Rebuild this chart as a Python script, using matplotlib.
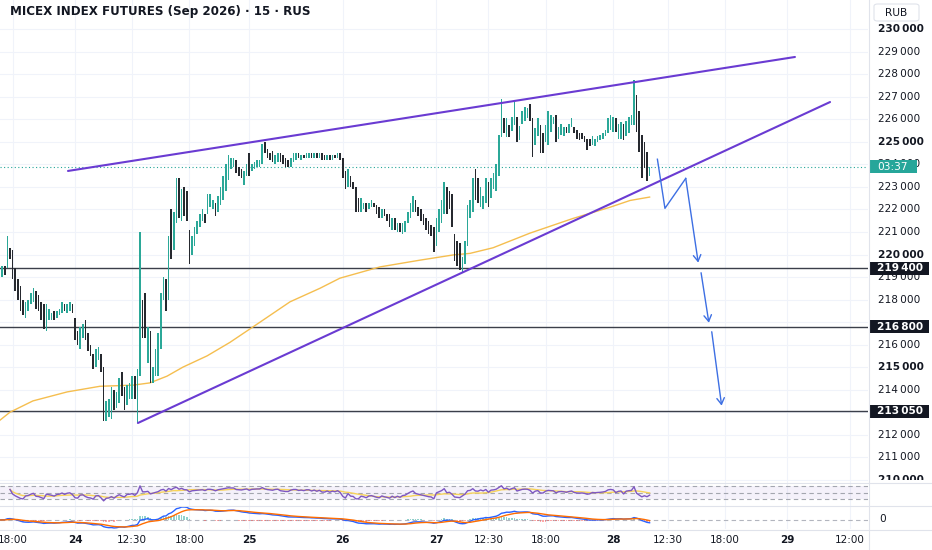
import numpy as np
import pandas as pd
import matplotlib
matplotlib.use("Agg")
import matplotlib.pyplot as plt
from matplotlib.patches import Rectangle, FancyBboxPatch
from matplotlib.lines import Line2D
from matplotlib.transforms import blended_transform_factory, Bbox

plt.rcParams['font.family'] = ['DejaVu Sans']

# ---------------- data (prices in thousand RUB, 15-minute bars) ----------------
first_bar = -29  # bar index of first visible bar (day 24 session start = 0)

opens_23 = [219.6, 219.0, 219.5, 219.4, 220.3, 220.2, 219.4, 218.9, 218.6, 218.0,
            217.2, 217.5, 217.8, 217.9, 218.4, 218.2, 217.9, 217.8, 216.6, 217.1,
            217.1, 217.5, 217.2, 217.3, 217.4, 217.8, 217.4, 217.5, 217.8]
closes_23 = [219.0, 219.5, 219.1, 220.8, 219.8, 218.9, 218.4, 218.0, 217.5, 217.3,
             217.9, 218.0, 218.3, 218.5, 217.6, 217.5, 217.1, 216.7, 217.8, 217.6,
             217.4, 217.1, 217.5, 217.6, 217.9, 217.5, 217.8, 217.9, 217.4]

opens_24 = [217.2, 216.6, 215.8, 216.3, 217.1, 216.5, 216.0, 215.6, 215.0, 215.3,
            215.6, 215.0, 212.6, 212.8, 212.7, 214.0, 213.2, 213.4, 214.8, 214.1,
            213.3, 213.6, 213.6, 214.6, 212.5, 214.6, 218.0, 218.3, 215.2, 216.6,
            214.3, 214.6, 214.6, 215.8, 218.0, 218.9, 218.0, 222.0, 220.2, 221.4,
            223.4, 221.5, 223.0, 222.8, 221.1, 220.0, 220.4, 220.9, 221.2, 221.5,
            221.8, 221.8, 222.1, 222.0, 222.3, 221.9, 222.2, 222.4, 222.8, 223.3,
            223.8, 223.9, 224.2, 223.9, 223.8, 223.1, 223.5]
closes_24 = [216.2, 216.0, 216.8, 216.9, 216.2, 215.7, 215.5, 214.9, 215.8, 215.9,
             214.8, 212.6, 213.5, 213.6, 214.1, 213.1, 213.9, 214.5, 213.7, 213.1,
             214.2, 214.3, 214.6, 213.6, 214.9, 221.0, 216.3, 216.3, 216.8, 214.3,
             215.0, 215.8, 216.5, 218.3, 219.0, 217.5, 220.8, 219.8, 221.9, 223.4,
             221.6, 222.9, 221.7, 221.5, 219.6, 220.8, 221.2, 221.5, 221.8, 222.0,
             221.4, 222.7, 222.7, 222.4, 221.7, 222.6, 223.0, 223.5, 224.0, 224.4,
             224.3, 224.3, 223.6, 223.5, 223.4, 223.7, 224.0]

opens_25 = [224.5, 223.7, 223.8, 223.9, 223.9, 224.0, 225.0, 224.7, 224.5, 224.6,
            224.0, 224.1, 224.5, 224.4, 224.3, 224.2, 223.9, 224.1, 224.2, 224.5,
            224.2, 224.4, 224.3, 224.3, 224.5, 224.3, 224.5, 224.3, 224.5, 224.4,
            224.2, 224.4, 224.2, 224.4, 224.3, 224.5]
closes_25 = [223.5, 224.0, 224.1, 224.2, 224.2, 224.9, 224.5, 224.3, 224.2, 224.1,
             224.4, 224.5, 224.1, 224.0, 223.9, 223.9, 224.3, 224.5, 224.5, 224.3,
             224.4, 224.3, 224.5, 224.5, 224.3, 224.5, 224.3, 224.5, 224.2, 224.2,
             224.4, 224.2, 224.4, 224.3, 224.5, 224.2]

opens_26 = [224.3, 223.7, 223.0, 223.5, 223.2, 223.0, 222.5, 221.9, 222.0, 222.3,
            222.0, 222.1, 222.3, 222.2, 222.1, 221.6, 222.0, 221.8, 221.8, 221.1,
            221.6, 221.0, 221.4, 220.9, 221.0, 221.4, 221.6, 221.9, 222.4, 222.1,
            222.0, 221.8, 221.6, 221.5, 221.3, 221.2]
closes_26 = [223.4, 222.9, 223.8, 223.0, 222.9, 221.9, 221.9, 222.5, 222.3, 221.9,
             222.3, 222.4, 222.1, 221.8, 221.6, 222.0, 221.7, 221.5, 221.2, 221.6,
             221.1, 221.4, 221.0, 221.4, 221.5, 221.9, 222.3, 222.6, 221.9, 221.7,
             221.5, 221.3, 221.1, 220.9, 220.8, 220.1]

opens_27 = [220.4, 221.0, 221.4, 221.8, 223.0, 222.8, 222.7, 220.9, 220.6, 220.5,
            219.2, 219.6, 220.4, 221.6, 221.9, 223.8, 223.4, 222.1, 222.0, 222.3,
            223.2, 222.5, 222.9, 222.8,
            223.5, 225.2, 226.05, 225.2, 225.75, 225.5, 225.75, 226.1, 225.1, 225.8,
            225.95, 226.05, 226.7, 226.05, 224.85, 225.25, 225.75, 225.4, 225.0, 224.85,
            225.45, 225.8, 226.2, 225.15, 225.3, 225.25, 225.65, 225.4, 225.65, 225.65,
            225.55, 225.4, 225.4, 225.25, 225.15, 225.15, 224.85, 224.8, 225.0, 225.1,
            225.15, 225.25, 225.4, 225.55]
closes_27 = [221.6, 222.0, 222.4, 223.2, 221.8, 222.0, 221.2, 219.7, 219.5, 219.3,
             219.9, 220.6, 222.2, 222.4, 223.4, 222.4, 222.3, 223.0, 222.6, 223.4,
             222.1, 223.4, 223.6, 224.0,
             225.3, 226.9, 225.4, 226.05, 225.2, 226.1, 226.85, 225.0, 225.7, 226.35,
             226.55, 226.5, 225.95, 224.35, 225.6, 226.05, 224.5, 224.5, 225.75, 226.35,
             226.2, 226.1, 225.0, 225.65, 225.8, 225.65, 225.4, 225.8, 226.05, 225.4,
             225.15, 225.1, 225.15, 225.0, 224.65, 224.8, 225.25, 225.15, 225.25, 225.3,
             225.4, 225.55, 226.05, 226.2]

opens_28 = [225.45, 226.05, 225.15, 225.15, 225.8, 225.25, 225.4, 225.75, 225.75, 227.1,
            226.35, 225.3, 225.0, 224.55, 223.5]
closes_28 = [226.1, 225.45, 225.8, 225.9, 225.1, 225.95, 226.1, 226.2, 227.75, 225.45,
             224.55, 223.4, 223.85, 223.25, 223.9]

# long moving average: bar index -> value
ma_bar = [-28.8, -25, -16.2, -3, 9.6, 22.3, 28.8, 35.4, 41.5, 50.8, 59.6, 71.2, 82.7,
          94.2, 101.9, 117.3, 132.7, 145.4, 151.9, 160.8, 175, 191.5, 205.8, 213.5, 221]
ma_val = [212.65, 213.0, 213.5, 213.9, 214.15, 214.2, 214.3, 214.6, 215.0, 215.5, 216.1,
          217.0, 217.9, 218.5, 218.95, 219.45, 219.75, 219.98, 220.05, 220.3, 220.95,
          221.6, 222.1, 222.4, 222.55]

levels = [219.4, 216.8, 213.05]

upper_bar = [-2.7, 276.9]
upper_val = [223.71, 228.77]
lower_bar = [24.2, 290.4]
lower_val = [212.52, 226.77]

proj_bar = [224.0, 226.9, 234.9, 239.7]
proj_val = [224.23, 222.05, 223.38, 219.64]
arrow2_bar = [240.8, 243.8]
arrow2_val = [219.19, 216.97]
arrow3_bar = [244.9, 248.7]
arrow3_val = [216.57, 213.29]

tick_bar = [-24, 0, 22, 44, 67, 103, 139, 159, 181, 207, 228, 250, 274, 298]
tick_lbl = ["18:00", "24", "12:30", "18:00", "25", "26", "27", "12:30", "18:00",
            "28", "12:30", "18:00", "29", "12:00"]
price_ticks = list(range(210, 231))

title = "MICEX INDEX FUTURES (Sep 2026) \u00b7 15 \u00b7 RUS"
countdown = "03:37"

# ---------------- build series ----------------
opens = np.array(opens_23 + opens_24 + opens_25 + opens_26 + opens_27 + opens_28)
closes = np.array(closes_23 + closes_24 + closes_25 + closes_26 + closes_27 + closes_28)
bars = np.arange(len(closes)) + first_bar

c = pd.Series(closes)
d = c.diff()
up = d.clip(lower=0)
dn = -d.clip(upper=0)
rs = up.ewm(alpha=1/14, adjust=True).mean() / dn.ewm(alpha=1/14, adjust=True).mean()
rsi = 100 - 100 / (1 + rs)
rsi.iloc[:4] = np.nan
rsi_ma = rsi.rolling(14, min_periods=1).mean()
macd = c.ewm(span=12, adjust=False).mean() - c.ewm(span=26, adjust=False).mean()
signal = macd.ewm(span=9, adjust=False).mean()
hist = macd - signal

# ---------------- figure ----------------
W, H = 932, 550
fig = plt.figure(figsize=(W/100, H/100), dpi=100, facecolor='white')
def fx(px): return px / W
def fy(py): return 1 - py / H

X0, X1 = -28.85, 305
ax = fig.add_axes([0, fy(482), fx(868), 482/H])
ax_rsi = fig.add_axes([0, fy(506), fx(868), 24/H], sharex=ax)
ax_macd = fig.add_axes([0, fy(529), fx(868), 23/H], sharex=ax)
for a in (ax, ax_rsi, ax_macd):
    for s in a.spines.values():
        s.set_visible(False)
    a.set_yticks([])
    a.tick_params(length=0)
    a.set_facecolor('white')
ax.set_xlim(X0, X1)
ax.set_ylim(209.90, 231.30)

GRID = '#F0F3FA'
for p in price_ticks:
    ax.axhline(p, color=GRID, lw=0.8, zorder=0)
for t in tick_bar:
    for a in (ax, ax_rsi, ax_macd):
        a.axvline(t, color=GRID, lw=0.8, zorder=0)

# current price dotted line
last = closes[-1]
ax.axhline(last, color='#26A69A', lw=0.8, ls=(0, (1, 2.2)), zorder=1)

# level lines
for lv in levels:
    ax.axhline(lv, color='#3B3F4A', lw=1.0, zorder=2)

# moving average
ax.plot(ma_bar, ma_val, color='#F5BE4F', lw=1.0, zorder=3)

# candles
UP, DN = '#2BA898', '#26292F'
colors = np.where(closes >= opens, UP, DN)
bottom = np.minimum(opens, closes)
height = np.maximum(np.abs(closes - opens), 0.05)
ax.bar(bars, height, bottom=bottom, width=0.6, color=colors, linewidth=0, zorder=4)

# trendlines
PURPLE = '#6A3BD2'
ax.plot(upper_bar, upper_val, color=PURPLE, lw=1.5, zorder=5, solid_capstyle='round')
ax.plot(lower_bar, lower_val, color=PURPLE, lw=1.5, zorder=5, solid_capstyle='round')

# projection path
BLUE = '#3D6FE3'
ax.plot(proj_bar[:3], proj_val[:3], color=BLUE, lw=1.0, zorder=5)
ap = dict(arrowstyle='->,head_length=0.5,head_width=0.3', color=BLUE, lw=1.0,
          shrinkA=0, shrinkB=0, mutation_scale=9)
ax.annotate('', xy=(proj_bar[3], proj_val[3]), xytext=(proj_bar[2], proj_val[2]),
            arrowprops=ap, zorder=5)
ax.annotate('', xy=(arrow2_bar[1], arrow2_val[1]), xytext=(arrow2_bar[0], arrow2_val[0]),
            arrowprops=ap, zorder=5)
ax.annotate('', xy=(arrow3_bar[1], arrow3_val[1]), xytext=(arrow3_bar[0], arrow3_val[0]),
            arrowprops=ap, zorder=5)

# price axis labels
TXT = '#131722'
trans = blended_transform_factory(fig.transFigure, ax.transData)
clip = Bbox.from_extents(868, H - 479.5, W, H)
def fmt(v):
    return f"{v*1000:,.0f}".replace(",", "\u2009")
for p in price_ticks:
    if any(abs(p - lv) < 0.2 for lv in levels):
        continue  # fully hidden behind a level label
    t = ax.text(fx(878), p, fmt(p), transform=trans, ha='left', va='center',
                fontsize=7.6, color=TXT, fontweight='bold' if p % 5 == 0 else 'normal',
                zorder=6, clip_on=True)
    t.set_clip_box(clip)

px_per_unit = 482 / (231.30 - 209.90)
bh = 13 / px_per_unit
for lv in levels:
    ax.add_patch(Rectangle((fx(869), lv - bh/2), fx(60), bh, transform=trans,
                           facecolor='#131722', edgecolor='none', zorder=8, clip_on=False))
    ax.text(fx(877), lv, fmt(lv), transform=trans, ha='left', va='center',
            fontsize=7.6, color='white', fontweight='bold', zorder=9, clip_on=False)
ax.add_patch(Rectangle((fx(869), last - bh/2), fx(48), bh, transform=trans,
                       facecolor='#26A69A', edgecolor='none', zorder=8, clip_on=False))
ax.text(fx(893), last, countdown, transform=trans, ha='center', va='center',
        fontsize=7.6, color='white', zorder=9, clip_on=False)

# RSI pane
ax_rsi.set_ylim(10, 82)
ax_rsi.axhspan(30, 70, color='#7E57C2', alpha=0.08, lw=0, zorder=0)
for lv in (70, 50, 30):
    ax_rsi.axhline(lv, color='#A3A6AF', lw=0.8, ls=(0, (4, 3)), zorder=1)
ax_rsi.plot(bars, rsi_ma, color='#F7D35A', lw=1.0, zorder=2)
ax_rsi.plot(bars, rsi, color='#7E57C2', lw=1.0, zorder=3)

# MACD pane
lo, hi = min(macd.min(), signal.min(), hist.min(), 0), max(macd.max(), signal.max(), hist.max())
s = max(hi / 14, -lo / 9) * 1.08
ax_macd.set_ylim(-9 * s, 14 * s)
ax_macd.axhline(0, color='#B2B5BE', lw=0.8, ls=(0, (4, 3)), zorder=1)
hcol = np.where(hist >= 0, '#26A69A', '#FF5252')
ax_macd.bar(bars, hist, width=0.6, color=hcol, alpha=0.5, linewidth=0, zorder=2)
ax_macd.plot(bars, macd, color='#2962FF', lw=1.0, zorder=3)
ax_macd.plot(bars, signal, color='#FF6D00', lw=1.0, zorder=3)

ax.tick_params(labelbottom=False)
ax_rsi.tick_params(labelbottom=False)
ax_macd.set_xticks(tick_bar)
ax_macd.set_xticklabels(tick_lbl)
ax_macd.tick_params(axis='x', length=0, pad=4.5, labelsize=7.5, labelcolor=TXT)
for lab in ax_macd.get_xticklabels():
    if ':' not in lab.get_text():
        lab.set_fontweight('bold')

# separators
SEP = '#E0E3EB'
fig.add_artist(Line2D([fx(868.5), fx(868.5)], [0, 1], color=SEP, lw=0.8))
for yy in (482.5, 506, 529.5):
    fig.add_artist(Line2D([0, 1], [fy(yy), fy(yy)], color=SEP, lw=0.8))

fig.text(fx(879), fy(519), "0", fontsize=7.6, color=TXT, ha='left', va='center')

# RUB box
fig.add_artist(FancyBboxPatch((fx(874), fy(21)), fx(45), 17/H,
                              boxstyle='round,pad=0,rounding_size=0.004',
                              facecolor='white', edgecolor='#E0E3EB', lw=0.8,
                              transform=fig.transFigure, zorder=5))
fig.text(fx(896.5), fy(12.5), "RUB", fontsize=7.6, color=TXT, ha='center', va='center', zorder=6)

# title
fig.text(fx(10), fy(12), title, fontsize=8.6, fontweight='bold', color=TXT,
         ha='left', va='center')

fig.savefig("out.png", dpi=100, facecolor='white')
